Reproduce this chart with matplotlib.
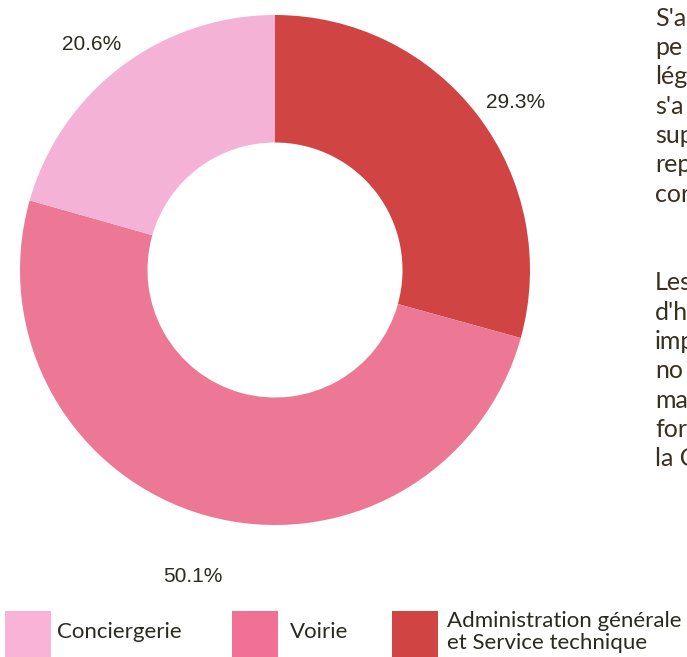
import matplotlib
matplotlib.use("Agg")
import matplotlib.pyplot as plt
from matplotlib.patches import Rectangle

categories = ["Administration générale\net Service technique", "Voirie", "Conciergerie"]
values = [29.3, 50.1, 20.6]
colors = ["#D04444", "#EC7896", "#F4B3D6"]
legend_order = ["Conciergerie", "Voirie", "Administration générale\net Service technique"]
legend_colors = ["#F9B3D6", "#F07096", "#D04444"]
side_text = ["S'a", "pe", "lég", "s'a", "sup", "rep", "cor", "", "", "Les", "d'h", "imp", "no", "ma", "for", "la C"]

W, H = 687, 657
fig = plt.figure(figsize=(W / 100, H / 100), dpi=100)
fig.patch.set_facecolor("white")

def fx(x):
    return x / W

def fy(y):
    return 1 - y / H

cx, cy, R = 275, 270, 255
ax = fig.add_axes([fx(cx - R), fy(cy + R), 2 * R / W, 2 * R / H])
wedges, _ = ax.pie(values, colors=colors, startangle=90, counterclock=False,
                   radius=1, wedgeprops=dict(width=0.5, linewidth=0))
ax.set_xlim(-1, 1)
ax.set_ylim(-1, 1)
ax.set_aspect("equal")
ax.axis("off")

label_pos = [(516, 102), (193, 577), (92, 45)]
txtcol = "#2a2a20"
for v, (x, y) in zip(values, label_pos):
    fig.text(fx(x), fy(y), f"{v}%", ha="center", va="center", fontsize=15,
             family="Liberation Sans", color=txtcol)

# legend
patch_x = [5, 232, 392]
text_x = [57, 290, 447]
for lab, c, px, tx in zip(legend_order, legend_colors, patch_x, text_x):
    fig.patches.append(Rectangle((fx(px), fy(657)), 46 / W, 46 / H, transform=fig.transFigure,
                                 facecolor=c, edgecolor="none"))
    fig.text(fx(tx), fy(632), lab, ha="left", va="center", fontsize=16, family="Lato",
             color=txtcol, linespacing=1.15)

# side paragraph (clipped by page edge)
for i, t in enumerate(side_text):
    if t:
        fig.text(fx(655), fy(18 + i * 29.4), t, ha="left", va="center", fontsize=18,
                 family="Lato", color="#3a3020")

fig.savefig("out.png", dpi=100)
